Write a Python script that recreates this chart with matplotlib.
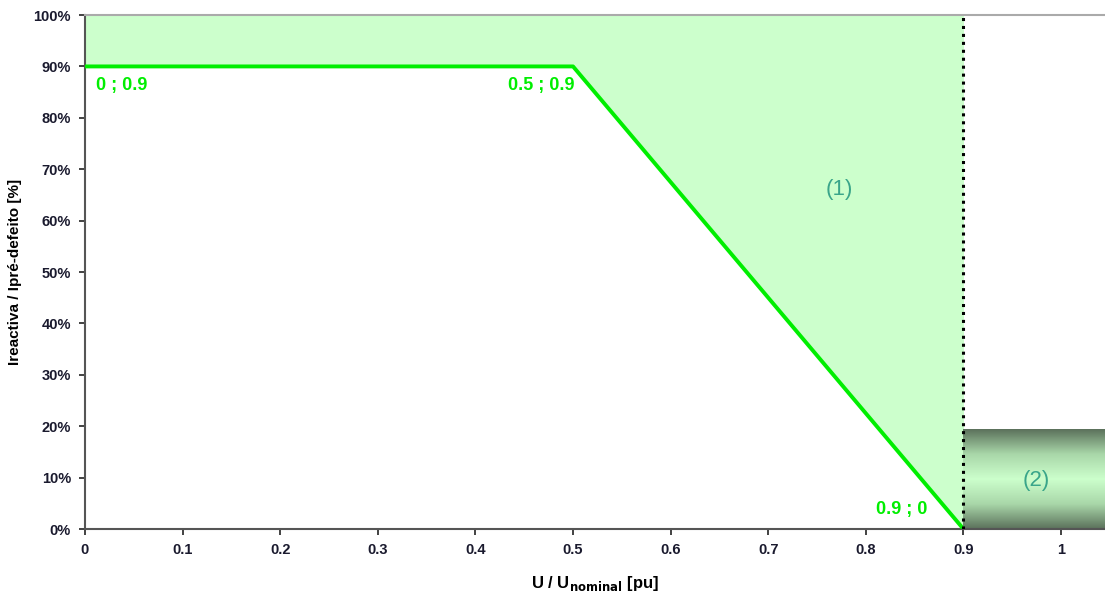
import numpy as np
import matplotlib
matplotlib.use("Agg")
import matplotlib.pyplot as plt
from matplotlib.colors import LinearSegmentedColormap
from matplotlib.ticker import PercentFormatter

# curva limite de corrente reactiva
u_pts = [0.0, 0.5, 0.9]
i_pts = [0.9, 0.9, 0.0]
pt_labels = ["0 ; 0.9", "0.5 ; 0.9", "0.9 ; 0"]
# zona (2)
box_u = [0.9, 1.05]
box_i = [0.0, 0.193]
x_ticks = [0, 0.1, 0.2, 0.3, 0.4, 0.5, 0.6, 0.7, 0.8, 0.9, 1]
x_ticklabels = ["0", "0.1", "0.2", "0.3", "0.4", "0.5", "0.6", "0.7", "0.8", "0.9", "1"]

plt.rcParams['font.family'] = ['Liberation Sans', 'DejaVu Sans']
plt.rcParams['font.weight'] = 'bold'

fig = plt.figure(figsize=(11.05, 5.94), dpi=100)
ax = fig.add_axes([0.0769, 0.1094, 0.9231, 0.8653])

green = "#00ee00"
light = "#ccffcc"

# zona (1)
ax.fill_between(u_pts, i_pts, 1.0, color=light, lw=0, zorder=1)
ax.plot(u_pts, i_pts, color=green, lw=2.8, zorder=4, solid_capstyle='butt')
ax.vlines(u_pts[-1], 0, 1.0, color="black", linestyles=(0, (1, 1.6)), lw=2.2, zorder=5)

# zona (2) com gradiente
cmap = LinearSegmentedColormap.from_list("g2", ["#5b715b", "#a9d7a9", light, "#a9d7a9", "#5b715b"])
grad = np.linspace(0, 1, 256).reshape(-1, 1)
ax.imshow(grad, cmap=cmap, aspect='auto', extent=[box_u[0], box_u[1], box_i[0], box_i[1]],
          origin='lower', zorder=2)

ax.text(0.011, 0.862, pt_labels[0], color=green, fontsize=13, fontweight='bold', va='center', ha='left')
ax.text(0.501, 0.862, pt_labels[1], color=green, fontsize=13, fontweight='bold', va='center', ha='right')
ax.text(0.863, 0.037, pt_labels[2], color=green, fontsize=13, fontweight='bold', va='center', ha='right')
ax.text(0.773, 0.66, "(1)", color="#3aa58a", fontsize=16, fontweight='normal', ha='center', va='center')
ax.text(0.975, 0.095, "(2)", color="#3aa58a", fontsize=16, fontweight='normal', ha='center', va='center')

ax.set_xlim(0, 1.045)
ax.set_ylim(0, 1.0)
ax.set_xticks(x_ticks)
ax.set_xticklabels(x_ticklabels)
ax.set_yticks(np.arange(0, 1.01, 0.1))
ax.yaxis.set_major_formatter(PercentFormatter(1.0, decimals=0))
ax.tick_params(labelsize=10.5, colors="#222222", length=4, width=1.2, pad=6)
for lab in ax.get_xticklabels() + ax.get_yticklabels():
    lab.set_color("#1a1a2e")

ax.spines['right'].set_visible(False)
ax.spines['top'].set_color("#aaaaaa")
ax.spines['top'].set_linewidth(1.5)
for s in ['left', 'bottom']:
    ax.spines[s].set_color("#555555")
    ax.spines[s].set_linewidth(1.5)

ax.set_xlabel(r"U / U$_{\mathbf{nominal}}$ [pu]", fontsize=12, fontweight='bold', labelpad=12)
ax.set_ylabel("Ireactiva / Ipré-defeito [%]", fontsize=11, fontweight='bold', labelpad=8)

fig.savefig("out.png", dpi=100)
